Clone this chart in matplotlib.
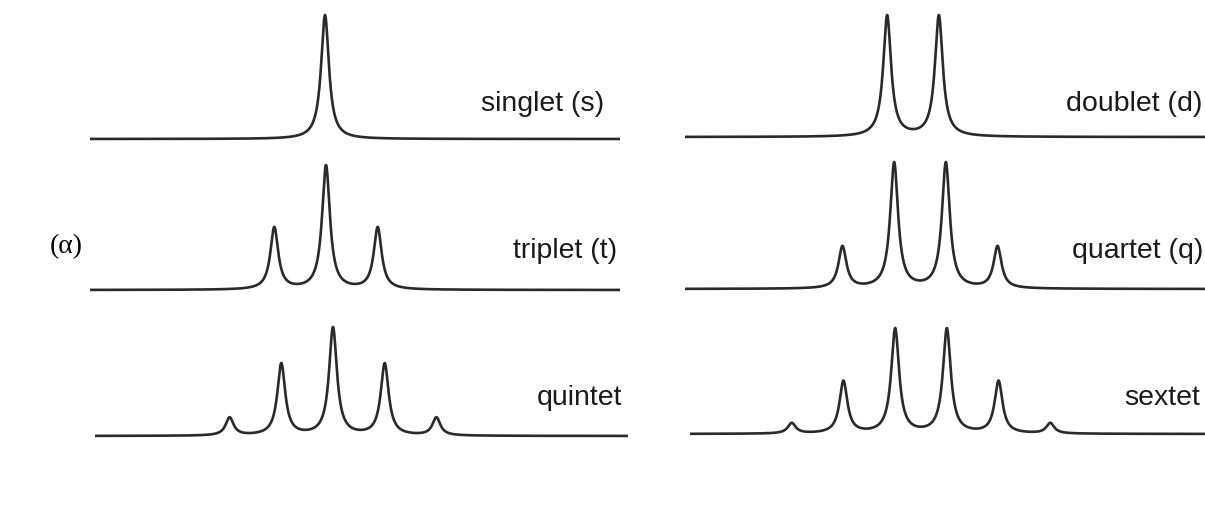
import numpy as np
import matplotlib
matplotlib.use("Agg")
import matplotlib.pyplot as plt

W, H = 1205, 519

# multiplet names and relative line intensities
NAMES = ["singlet (s)", "triplet (t)", "quintet", "doublet (d)", "quartet (q)", "sextet"]
INTENSITIES = [
    [1],
    [1, 2, 1],
    [1, 4, 6, 4, 1],
    [1, 1],
    [1, 3, 3, 1],
    [1, 5, 10, 10, 5, 1],
]
J_COUPLING = 1.0     # line spacing
HALF_WIDTH = 0.092   # lorentzian half width at half height

# panel geometry in pixels: left, right, baseline, peak top, center of multiplet
PANELS = [
    (90, 620, 139, 15, 325),
    (90, 620, 290, 165, 326),
    (95, 628, 436, 327, 333),
    (685, 1205, 137, 15, 913),
    (685, 1205, 289, 162, 920),
    (690, 1205, 434, 328, 921),
]
# label anchors (right edge x, text baseline y) in pixels
LABEL_POS = [(604, 111), (617, 258), (622, 405), (1202, 111), (1203, 258), (1200, 405)]

PX_PER_J = 51.7


def spectrum(x, intens):
    n = len(intens)
    y = np.zeros_like(x)
    for k, a in enumerate(intens):
        pos = (k - (n - 1) / 2) * J_COUPLING
        y += a * HALF_WIDTH ** 2 / ((x - pos) ** 2 + HALF_WIDTH ** 2)
    return y / max(intens)


fig = plt.figure(figsize=(W / 100, H / 100), dpi=100)

for name, intens, (x0, x1, base, top, cen), (tx, ty) in zip(NAMES, INTENSITIES, PANELS, LABEL_POS):
    ax = fig.add_axes([x0 / W, 1 - base / H, (x1 - x0) / W, (base - top) / H])
    lo = (x0 - cen) / PX_PER_J
    hi = (x1 - cen) / PX_PER_J
    x = np.linspace(lo, hi, 4000)
    y = spectrum(x, intens)
    ax.plot(x, y, color="#2a2a2a", lw=1.9, clip_on=False, solid_capstyle="butt")
    ax.set_xlim(lo, hi)
    ax.set_ylim(0, y.max())
    ax.axis("off")

    fig.text(tx / W, 1 - ty / H, name, ha="right", va="baseline",
             fontsize=20.5, family="Liberation Sans", color="#1a1a1a")

fig.text(50 / W, 1 - 253 / H, "(\u03b1)", ha="left", va="baseline",
         fontsize=20, family="Liberation Serif", color="black")

fig.savefig("out.png", dpi=100, facecolor="white")
